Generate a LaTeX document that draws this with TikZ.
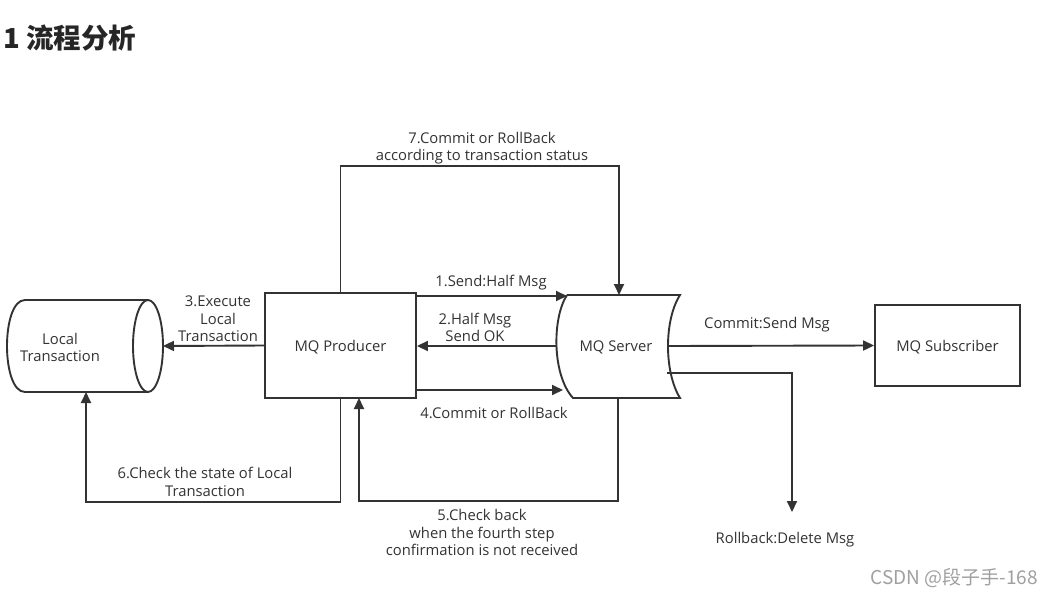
\documentclass[tikz,border=0pt]{standalone}
\usepackage{fontspec}
\setmainfont{Open Sans}
\newfontfamily\cjkfont{Noto Sans CJK SC}
\usetikzlibrary{arrows.meta,calc}
\definecolor{lc}{HTML}{333333}
\definecolor{tc}{HTML}{333333}
\definecolor{wm}{HTML}{A0A0A0}
\begin{document}
\begin{tikzpicture}[x=1pt,y=-1pt,
  ln/.style={draw=lc,line width=1.9pt},
  arr/.style={ln,-{Triangle[length=11pt,width=10pt]}},
  box/.style={ln,rectangle,inner sep=0,font=\fontsize{14.8}{17.5}\selectfont,text=tc},
  lbl/.style={font=\fontsize{14.8}{17.5}\selectfont,text=tc,align=center,inner sep=0,yshift=-1.5pt}]
\useasboundingbox[fill=white] (0,0) rectangle (1052,597);
% title
\node[anchor=west,inner sep=0,text=black!85,font=\cjkfont\bfseries\fontsize{27.5}{32}\selectfont] (title) at (3,38) {1 流程分析};
% Local Transaction cylinder
\draw[ln] (25,300) -- (148,300);
\draw[ln] (25,392) -- (148,392);
\draw[ln] (25,300) .. controls (1,300) and (1,392) .. (25,392);
\draw[ln] (148,346) ellipse [x radius=15pt, y radius=46pt];
\node[lbl] (lt) at (60,346) {Local\\Transaction};
\coordinate (ltR) at (163,346);
\coordinate (ltB) at (86,392);
% MQ Producer
\node[ln,minimum width=151pt,minimum height=105pt,inner sep=0] (prod) at (340.5,345.5) {};
\node[lbl] (prodt) at (prod.center) {MQ Producer};
\coordinate (prodB5) at (359,398);
% MQ Server
\draw[ln] (567,295) -- (680,295) .. controls (664,320) and (664,372) .. (680,398) -- (573,398)
  .. controls (552,375) and (552,318) .. (567,295);
\node[lbl] (srv) at (616,346) {MQ Server};
\coordinate (srvTL) at (567,296);
\coordinate (srvL) at (557,346);
\coordinate (srvBL) at (563,390);
\coordinate (srvT) at (619,295);
\coordinate (srvB) at (618,398);
\coordinate (srvR) at (668,346);
\coordinate (srvR2) at (667,373);
% MQ Subscriber
\node[ln,minimum width=145pt,minimum height=81pt,inner sep=0] (sub) at (947.5,345.5) {};
\node[lbl] (subt) at (sub.center) {MQ Subscriber};
\coordinate (rb) at (792,512);
% connectors
\draw[arr] (prod.east |- srvTL) -- (srvTL);
\draw[arr] (srvL) -- (prod.east |- srvL);
\draw[arr] (prod.east |- srvBL) -- (srvBL);
\draw[arr] (prod.west) -- (ltR);
\draw[arr] (prod.south) -- ++(0,103) -| (ltB);
\draw[arr] (srvB) -- ++(0,103) -| (prodB5);
\draw[arr] (prod.north) -- ++(0,-126) -| (srvT);
\draw[arr] (srvR) -- (sub.west);
\draw[arr] (srvR2) -| (rb);
% labels
\node[lbl] (l7) at (482,146.5) {7.Commit or RollBack\\according to transaction status};
\node[lbl] (l1) at (491,281) {1.Send:Half Msg};
\node[lbl] (l2) at (475,326) {2.Half Msg\\Send OK};
\node[lbl] (l4) at (494,411) {4.Commit or RollBack};
\node[lbl] (l3) at (218,317.5) {3.Execute\\Local\\Transaction};
\node[lbl] (l6) at (205,480.5) {6.Check the state of Local\\Transaction};
\node[lbl] (l5) at (482,531) {5.Check back\\when the fourth step\\confirmation is not received};
\node[lbl] (lc) at (767,323) {Commit:Send Msg};
\node[lbl] (lr) at (785,538) {Rollback:Delete Msg};
% watermark
\node[anchor=east,inner sep=0,text=wm,font=\cjkfont\fontsize{19}{22}\selectfont] (wmk) at (1038,578) {CSDN @段子手-168};
\end{tikzpicture}
\end{document}
